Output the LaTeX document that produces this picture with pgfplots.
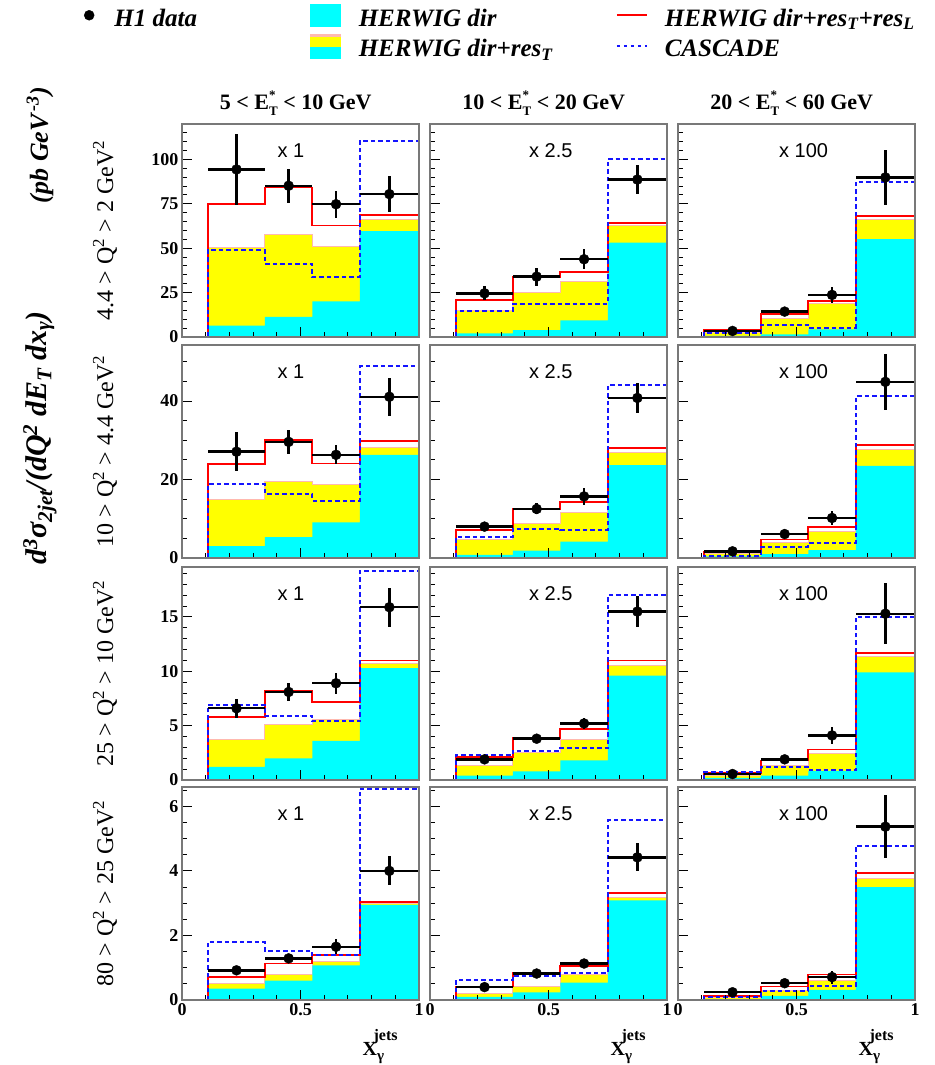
\documentclass[border=0pt]{standalone}
\usepackage{fontspec}
\setmainfont{Liberation Serif}
\setsansfont{Liberation Sans}
\usepackage{pgfplots}
\pgfplotsset{compat=1.18}
\definecolor{hcyan}{RGB}{0,255,255}
\definecolor{hyel}{RGB}{255,255,0}
\definecolor{hpink}{RGB}{255,185,175}
\definecolor{hblue}{RGB}{20,20,255}
\definecolor{hframe}{RGB}{120,120,120}

\newcommand{\Hist}[5]{\addplot[#1, const plot mark right] coordinates {(0.11,0) (0.35,#2) (0.55,#3) (0.75,#4) (1,#5) (1,0)};}
\newcommand{\Dat}[8]{\addplot[dat] coordinates {(0.23,#1) +- (0.12,#2) (0.45,#3) +- (0.1,#4) (0.65,#5) +- (0.1,#6) (0.875,#7) +- (0.125,#8)};}
\newcommand{\LegF}{\bfseries\itshape\fontsize{25}{25}\selectfont}
\newcommand{\Mul}[2]{\node[font=\sffamily\fontsize{20}{20}\selectfont] at (axis description cs:#1,0.873) {#2};}
\newcommand{\XG}{\bfseries\fontsize{20}{20}\selectfont\rlap{\raisebox{15pt}{\hspace{11pt}\fontsize{16}{16}\selectfont jets}}X\raisebox{-5pt}{\fontsize{15}{15}\selectfont γ}}
\newcommand{\ET}{E\rlap{\raisebox{10pt}{\fontsize{13}{13}\selectfont *}}\raisebox{-6pt}{\fontsize{13}{13}\selectfont T}}

\pgfplotsset{
  panel/.style={anchor=south west, scale only axis, width=237pt, height=213pt,
    xmin=0, xmax=1, ymin=0, axis on top, clip=false,
    axis line style={draw=hframe, line width=1.5pt},
    tick align=inside, xtick pos=left, ytick pos=left,
    xtick={0,0.5,1}, minor xtick={0.1,0.2,0.3,0.4,0.6,0.7,0.8,0.9},
    major tick length=10pt, minor tick length=5pt,
    every tick/.style={black, line width=1pt},
    xticklabels={},
    tick label style={font=\bfseries\fontsize{18}{18}\selectfont},
    /pgf/number format/assume math mode=true,
    every axis title/.style={at={(axis description cs:0.48,1.07)}, anchor=base, font=\bfseries\fontsize{22}{22}\selectfont},
    every axis y label/.style={at={(axis description cs:-0.325,0.5)}, rotate=90, anchor=center, font=\fontsize{24}{24}\selectfont},
    every axis x label/.style={at={(axis description cs:0.747,-0.262)}, anchor=base west},
  },
  nolab/.style={yticklabels={}},
  bot/.style={xticklabels={0,0.5,1}, xlabel={\XG}},
  r1/.style={ymax=120, ytick={0,25,50,75,100}, minor ytick={0,5,...,120}},
  r2/.style={ymax=54.3, ytick={0,20,40}, minor ytick={0,5,...,50}},
  r3/.style={ymax=19.6, ytick={0,5,10,15}, minor ytick={0,1,...,19}},
  r4/.style={ymax=6.6, ytick={0,2,4,6}, minor ytick={0,0.5,...,6.5}},
  yel/.style={fill=hyel, draw=hpink, line width=1pt},
  cy/.style={fill=hcyan, draw=none},
  rl/.style={draw=red, line width=1.8pt},
  cs/.style={draw=hblue, line width=2pt, dash pattern=on 4.5pt off 3pt},
  dat/.style={only marks, mark=*, mark size=5pt, black, mark options={fill=black},
    error bars/.cd, x dir=both, x explicit, y dir=both, y explicit,
    error bar style={line width=2.4pt, black}, error mark=none},
}

\begin{document}
\begin{tikzpicture}
\path[use as bounding box] (0pt,0pt) rectangle (934pt,1065pt);

% main y label (two parts)
\node[rotate=90, anchor=center, font=\bfseries\itshape\fontsize{30}{30}\selectfont] at (40pt,627pt)
 {d\textsuperscript{3}σ\textsubscript{2jet}/(dQ\textsuperscript{2} dE\textsubscript{T} dx\textsubscript{γ})};
\node[rotate=90, anchor=center, font=\bfseries\itshape\fontsize{26}{26}\selectfont] at (40pt,920pt)
 {(pb GeV\textsuperscript{\,-3})};

% ---------- Row 1 ----------
\begin{axis}[panel, r1, at={(182pt,728pt)},
  title={5 {\textless} \ET{} {\textless} 10 GeV},
  ylabel={4.4 {\textgreater} Q\textsuperscript{2} {\textgreater} 2 GeV\textsuperscript{2}},
  legend columns=3,
  legend style={at={(axis description cs:-0.4346,1.568)}, anchor=north west, draw=none, fill=none,
    inner sep=0pt, outer sep=0pt, column sep=0pt, row sep=6pt,
    nodes={inner sep=0pt, outer sep=0pt}, cells={anchor=west}}]
\addlegendimage{black, mark=*, mark size=5pt, legend image code/.code={\path (0pt,0pt) (20pt,0pt); \draw plot[only marks] coordinates {(10pt,0pt)};}}
\addlegendentry{\makebox[211pt][l]{\hspace{15pt}\LegF H1 data\rule[-7pt]{0pt}{30pt}}}
\addlegendimage{legend image code/.code={\fill[hcyan] (0pt,-11pt) rectangle (30pt,11pt);}}
\addlegendentry{\makebox[275pt][l]{\hspace{18pt}\LegF HERWIG dir\rule[-7pt]{0pt}{30pt}}}
\addlegendimage{legend image code/.code={\draw[red, line width=1.8pt] (0pt,0pt) -- (30pt,0pt);}}
\addlegendentry{\makebox[289pt][l]{\hspace{17pt}\LegF HERWIG dir+res\textsubscript{T}+res\textsubscript{L}\rule[-7pt]{0pt}{30pt}}}
\addlegendimage{empty legend}
\addlegendentry{\makebox[211pt][l]{\rule[-7pt]{0pt}{30pt}}}
\addlegendimage{legend image code/.code={\fill[hcyan] (0pt,-12pt) rectangle (30pt,0pt); \fill[hyel] (0pt,0pt) rectangle (30pt,10pt); \fill[hpink] (0pt,10pt) rectangle (30pt,11.5pt);}}
\addlegendentry{\makebox[275pt][l]{\hspace{18pt}\LegF HERWIG dir+res\textsubscript{T}\rule[-7pt]{0pt}{30pt}}}
\addlegendimage{legend image code/.code={\draw[hblue, line width=2pt, dash pattern=on 3pt off 4pt] (0pt,0pt) -- (30pt,0pt);}}
\addlegendentry{\makebox[289pt][l]{\hspace{17pt}\LegF CASCADE\rule[-7pt]{0pt}{30pt}}}
\Hist{yel}{50.4}{57.9}{51.1}{66.2}
\Hist{cy}{6.4}{11.3}{20.1}{59.6}
\Hist{rl}{74.8}{84.2}{62.8}{68.6}
\Hist{cs}{48.9}{41.4}{33.8}{110.5}
\Dat{94.4}{20}{85.2}{9.6}{74.8}{7.5}{80.5}{10}
\Mul{0.46}{x 1}
\end{axis}

\begin{axis}[panel, r1, nolab, at={(430pt,728pt)},
  title={10 {\textless} \ET{} {\textless} 20 GeV}]
\Hist{yel}{15.2}{25}{31.2}{62.6}
\Hist{cy}{2.1}{3.9}{9.4}{53.2}
\Hist{rl}{20.9}{34}{36.7}{64.1}
\Hist{cs}{14.7}{18.8}{18.8}{100.2}
\Dat{24.6}{3.9}{34}{5}{43.8}{5.5}{88.7}{8.4}
\Mul{0.51}{x 2.5}
\end{axis}

\begin{axis}[panel, r1, nolab, at={(678pt,728pt)},
  title={20 {\textless} \ET{} {\textless} 60 GeV}]
\Hist{yel}{2.8}{10.5}{18.8}{66}
\Hist{cy}{0.6}{1.5}{4.3}{55.1}
\Hist{rl}{3.8}{12.8}{20.3}{68.2}
\Hist{cs}{2.4}{6.8}{5.3}{87.4}
\Dat{3.4}{1}{14.3}{1.5}{23.7}{4.4}{89.9}{15.5}
\Mul{0.53}{x 100}
\end{axis}

% ---------- Row 2 ----------
\begin{axis}[panel, r2, at={(182pt,507pt)},
  ylabel={10 {\textgreater} Q\textsuperscript{2} {\textgreater} 4.4 GeV\textsuperscript{2}}]
\Hist{yel}{15}{19.5}{18.8}{28.2}
\Hist{cy}{3}{5.3}{9.1}{26.3}
\Hist{rl}{24}{30.1}{24.1}{29.9}
\Hist{cs}{18.8}{16.3}{14.6}{48.9}
\Dat{27.1}{5}{29.6}{3}{26.3}{2.4}{41.1}{4.8}
\Mul{0.46}{x 1}
\end{axis}

\begin{axis}[panel, r2, nolab, at={(430pt,507pt)}]
\Hist{yel}{4.7}{8.9}{11.6}{26.8}
\Hist{cy}{0.8}{1.9}{4.2}{23.7}
\Hist{rl}{7.2}{12.5}{14.3}{28.1}
\Hist{cs}{5.3}{7.5}{7.1}{44}
\Dat{8}{1.1}{12.5}{1.4}{15.7}{2.2}{40.8}{3.8}
\Mul{0.51}{x 2.5}
\end{axis}

\begin{axis}[panel, r2, nolab, at={(678pt,507pt)}]
\Hist{yel}{1.2}{4}{6.8}{27.7}
\Hist{cy}{0.4}{1}{2}{23.5}
\Hist{rl}{1.6}{4.7}{7.8}{28.8}
\Hist{cs}{0.6}{2.9}{3.8}{41.2}
\Dat{1.7}{0.5}{6.1}{0.7}{10.2}{1.8}{44.9}{7.2}
\Mul{0.53}{x 100}
\end{axis}

% ---------- Row 3 ----------
\begin{axis}[panel, r3, at={(182pt,285pt)},
  ylabel={25 {\textgreater} Q\textsuperscript{2} {\textgreater} 10 GeV\textsuperscript{2}}]
\Hist{yel}{3.7}{5.1}{5.6}{10.7}
\Hist{cy}{1.2}{2}{3.6}{10.3}
\Hist{rl}{5.8}{8.2}{7.2}{11}
\Hist{cs}{6.9}{5.9}{5.4}{19.2}
\Dat{6.6}{0.85}{8.1}{0.8}{8.9}{0.95}{15.9}{1.8}
\Mul{0.46}{x 1}
\end{axis}

\begin{axis}[panel, r3, nolab, at={(430pt,285pt)}]
\Hist{yel}{1.3}{2.5}{3.7}{10.5}
\Hist{cy}{0.4}{0.8}{1.8}{9.6}
\Hist{rl}{2.1}{3.9}{4.7}{11}
\Hist{cs}{2.3}{2.7}{2.9}{17}
\Dat{1.9}{0.2}{3.8}{0.3}{5.2}{0.55}{15.5}{1.4}
\Mul{0.51}{x 2.5}
\end{axis}

\begin{axis}[panel, r3, nolab, at={(678pt,285pt)}]
\Hist{yel}{0.4}{1.3}{2.4}{11.4}
\Hist{cy}{0.2}{0.4}{0.85}{9.9}
\Hist{rl}{0.64}{1.8}{2.8}{11.7}
\Hist{cs}{0.7}{1.16}{0.9}{15}
\Dat{0.55}{0.15}{1.9}{0.25}{4.1}{0.8}{15.3}{2.8}
\Mul{0.53}{x 100}
\end{axis}

% ---------- Row 4 ----------
\begin{axis}[panel, r4, bot, at={(182pt,65pt)},
  ylabel={80 {\textgreater} Q\textsuperscript{2} {\textgreater} 25 GeV\textsuperscript{2}}]
\Hist{yel}{0.5}{0.79}{1.2}{2.98}
\Hist{cy}{0.35}{0.6}{1.07}{2.95}
\Hist{rl}{0.71}{1.13}{1.39}{3.04}
\Hist{cs}{1.8}{1.52}{1.38}{6.54}
\Dat{0.92}{0.08}{1.29}{0.1}{1.65}{0.24}{4.0}{0.45}
\Mul{0.46}{x 1}
\end{axis}

\begin{axis}[panel, r4, nolab, bot, at={(430pt,65pt)}]
\Hist{yel}{0.21}{0.42}{0.79}{3.19}
\Hist{cy}{0.1}{0.24}{0.54}{3.09}
\Hist{rl}{0.42}{0.84}{1.05}{3.32}
\Hist{cs}{0.61}{0.75}{0.84}{5.57}
\Dat{0.4}{0.05}{0.82}{0.06}{1.13}{0.08}{4.42}{0.43}
\Mul{0.51}{x 2.5}
\end{axis}

\begin{axis}[panel, r4, nolab, bot, at={(678pt,65pt)}]
\Hist{yel}{0.08}{0.28}{0.61}{3.75}
\Hist{cy}{0.03}{0.13}{0.31}{3.5}
\Hist{rl}{0.13}{0.42}{0.79}{3.93}
\Hist{cs}{0.1}{0.28}{0.44}{4.78}
\Dat{0.24}{0.05}{0.52}{0.07}{0.71}{0.2}{5.37}{0.98}
\Mul{0.53}{x 100}
\end{axis}
\end{tikzpicture}
\end{document}
